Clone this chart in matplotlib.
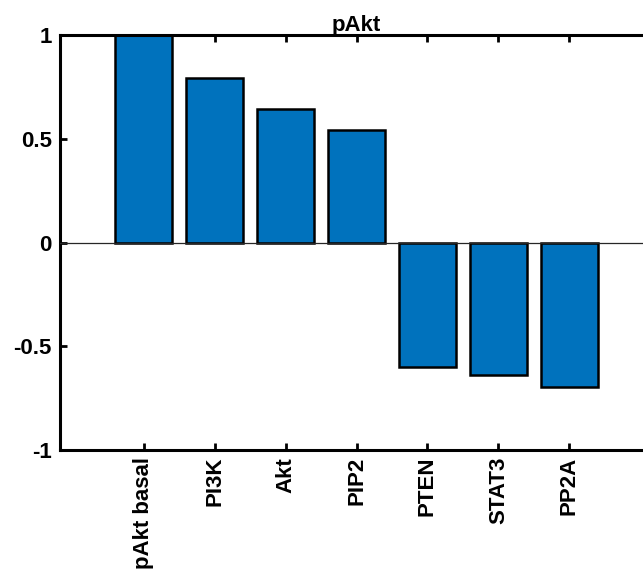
import matplotlib
matplotlib.use("Agg")
import matplotlib.pyplot as plt

categories = ["pAkt basal", "PI3K", "Akt", "PIP2", "PTEN", "STAT3", "PP2A"]
values = [1.0, 0.795, 0.645, 0.54, -0.598, -0.64, -0.695]
yticks = [-1, -0.5, 0, 0.5, 1]
ytick_labels = ["-1", "-0.5", "0", "0.5", "1"]
title = "pAkt"

plt.rcParams['font.family'] = ['Liberation Sans', 'DejaVu Sans']
plt.rcParams['font.weight'] = 'bold'

fig = plt.figure(figsize=(6.43, 5.69), dpi=100)
ax = fig.add_axes([60/643, 119/569, 593/643, 415/569])

x = list(range(1, len(categories) + 1))
ax.bar(x, values, width=0.8, color="#0072BD", edgecolor="black", linewidth=1.8, zorder=2)
ax.axhline(0, color="#262626", linewidth=0.9, zorder=3)

ax.set_xlim(-0.18, 8.18)
ax.set_ylim(-1, 1)
ax.set_xticks(x)
ax.set_xticklabels(categories, rotation=90, fontsize=16, fontweight='bold')
ax.set_yticks(yticks)
ax.set_yticklabels(ytick_labels, fontsize=16, fontweight='bold')
ax.tick_params(direction='in', length=5, width=2, top=True, right=True, pad=6)
ax.tick_params(axis='x', pad=5)
for s in ax.spines.values():
    s.set_linewidth(2.2)
ax.set_title(title, fontsize=16, fontweight='bold', pad=3)

fig.savefig("out.png", dpi=100)
